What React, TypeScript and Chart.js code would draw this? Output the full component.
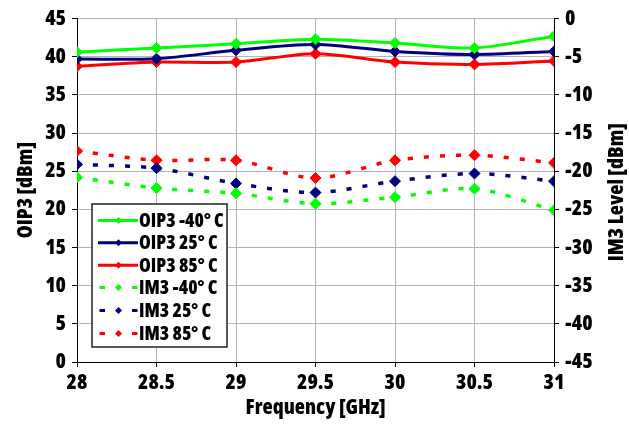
import React, { useEffect, useRef } from "react";
import { Chart, registerables } from "chart.js";

Chart.register(...registerables);

const FREQ = [28, 28.5, 29, 29.5, 30, 30.5, 31];
const OIP3_M40 = [40.6, 41.15, 41.7, 42.3, 41.8, 41.15, 42.7];
const OIP3_25 = [39.7, 39.75, 40.85, 41.6, 40.7, 40.3, 40.7];
const OIP3_85 = [38.75, 39.3, 39.3, 40.4, 39.3, 39.0, 39.45];
const IM3_M40 = [-20.8, -22.2, -22.9, -24.25, -23.4, -22.3, -25.1];
const IM3_25 = [-19.1, -19.6, -21.6, -22.8, -21.3, -20.3, -21.3];
const IM3_85 = [-17.35, -18.57, -18.57, -20.9, -18.57, -17.9, -18.9];

const LABELS = ["OIP3 -40° C", "OIP3 25° C", "OIP3 85° C", "IM3 -40° C", "IM3 25° C", "IM3 85° C"];
const X_TITLE = "Frequency [GHz]";
const LEFT_TITLE = "OIP3 [dBm]";
const RIGHT_TITLE = "IM3 Level [dBm]";

const GREEN = "#00ff00";
const NAVY = "#000080";
const RED = "#ff0000";
const FONT = "'Open Sans', Roboto, sans-serif";
const WEIGHT = "800 condensed";
const DASH = [5, 11];

const pts = (ys: number[]) => FREQ.map((x, i) => ({ x, y: ys[i] }));

const mk = (label: string, ys: number[], color: string, axis: string, dashed: boolean) => ({
  label,
  data: pts(ys),
  yAxisID: axis,
  borderColor: color,
  backgroundColor: color,
  pointBackgroundColor: color,
  pointBorderColor: color,
  pointStyle: "rectRot",
  pointRadius: 5.5,
  pointBorderWidth: 1,
  borderWidth: dashed ? 3.5 : 3,
  borderDash: dashed ? DASH : [],
  borderCapStyle: "butt",
  tension: 0.3,
  fill: false,
});

const overlayPlugin = {
  id: "overlay",
  afterDraw(chart: any) {
    const ctx = chart.ctx as CanvasRenderingContext2D;
    const ca = chart.chartArea;
    // right axis title (reads bottom to top)
    ctx.save();
    ctx.font = `${WEIGHT} 21px ${FONT}`;
    ctx.fillStyle = "#000";
    ctx.textAlign = "center";
    ctx.textBaseline = "middle";
    ctx.translate(617, (ca.top + ca.bottom) / 2 + 2);
    ctx.rotate(-Math.PI / 2);
    ctx.fillText(RIGHT_TITLE, 0, 0);
    ctx.restore();

    // legend box
    const bx = 92, by = 204, bw = 135, bh = 143;
    ctx.save();
    ctx.fillStyle = "#fff";
    ctx.fillRect(bx, by, bw, bh);
    ctx.strokeStyle = "#222";
    ctx.lineWidth = 1.5;
    ctx.strokeRect(bx, by, bw, bh);
    const ds = chart.data.datasets;
    const rowY = [220.5, 242.8, 265.2, 287.6, 310.5, 333.5];
    ds.forEach((d: any, i: number) => {
      const y = rowY[i];
      const dashed = d.borderDash && d.borderDash.length > 0;
      ctx.strokeStyle = d.borderColor;
      ctx.fillStyle = d.borderColor;
      ctx.lineWidth = 3;
      ctx.lineCap = "butt";
      ctx.beginPath();
      if (!dashed) {
        ctx.moveTo(98, y);
        ctx.lineTo(138, y);
      } else {
        ctx.moveTo(99.5, y);
        ctx.lineTo(105, y);
        ctx.moveTo(132, y);
        ctx.lineTo(137.5, y);
      }
      ctx.stroke();
      const r = 3.5;
      ctx.beginPath();
      ctx.moveTo(118.5, y - r);
      ctx.lineTo(118.5 + r, y);
      ctx.lineTo(118.5, y + r);
      ctx.lineTo(118.5 - r, y);
      ctx.closePath();
      ctx.fill();
      ctx.fillStyle = "#000";
      ctx.font = `${WEIGHT} 19px ${FONT}`;
      ctx.textAlign = "left";
      ctx.textBaseline = "middle";
      ctx.fillText(d.label, 139, y + 1);
    });
    ctx.restore();
  },
};

const tickFont = { size: 21, weight: WEIGHT };
const titleFont = { size: 21, weight: WEIGHT };

export default function App() {
  const ref = useRef<HTMLCanvasElement | null>(null);
  useEffect(() => {
    document.body.style.margin = "0";
    const canvas = ref.current;
    if (!canvas) return;
    Chart.defaults.font.family = FONT;
    const chart = new Chart(canvas, {
      type: "line",
      data: {
        datasets: [
          mk(LABELS[0], OIP3_M40, GREEN, "y", false),
          mk(LABELS[1], OIP3_25, NAVY, "y", false),
          mk(LABELS[2], OIP3_85, RED, "y", false),
          mk(LABELS[3], IM3_M40, GREEN, "y2", true),
          mk(LABELS[4], IM3_25, NAVY, "y2", true),
          mk(LABELS[5], IM3_85, RED, "y2", true),
        ] as any,
      },
      options: {
        responsive: false,
        animation: false,
        layout: { padding: { top: 18, left: 0, right: 0, bottom: 0 } },
        plugins: { legend: { display: false }, tooltip: { enabled: false } },
        scales: {
          x: {
            type: "linear",
            min: 28,
            max: 31,
            ticks: {
              stepSize: 0.5,
              color: "#000",
              font: tickFont,
              padding: 3,
              maxRotation: 0,
              callback: (v: any) => String(Number(v)),
            },
            grid: { color: "#b4b4b4", tickColor: "#000", tickLength: 5, lineWidth: 1 },
            border: { color: "#000", width: 1 },
            title: { display: true, text: X_TITLE, color: "#000", font: titleFont, padding: { top: 0, bottom: 3 } },
            afterFit: (s: any) => { s.height = 62; },
          },
          y: {
            type: "linear",
            position: "left",
            min: 0,
            max: 45,
            ticks: { stepSize: 5, color: "#000", font: tickFont, padding: 6 },
            grid: { color: "#b4b4b4", tickColor: "#000", tickLength: 5, lineWidth: 1 },
            border: { color: "#000", width: 1 },
            title: { display: true, text: LEFT_TITLE, color: "#000", font: titleFont, padding: { top: 13, bottom: 0 } },
            afterFit: (s: any) => { s.width = 77; },
          },
          y2: {
            type: "linear",
            position: "right",
            min: -45,
            max: 0,
            ticks: { stepSize: 5, color: "#000", font: tickFont, padding: 6 },
            grid: { drawOnChartArea: false, tickColor: "#000", tickLength: 5 },
            border: { color: "#000", width: 1, dash: [4, 3] },
            afterFit: (s: any) => { s.width = 75; },
          },
        },
      } as any,
      plugins: [overlayPlugin],
    });
    return () => chart.destroy();
  }, []);
  return (
    <div style={{ width: 629, height: 424 }}>
      <canvas ref={ref} width={629} height={424} />
    </div>
  );
}
